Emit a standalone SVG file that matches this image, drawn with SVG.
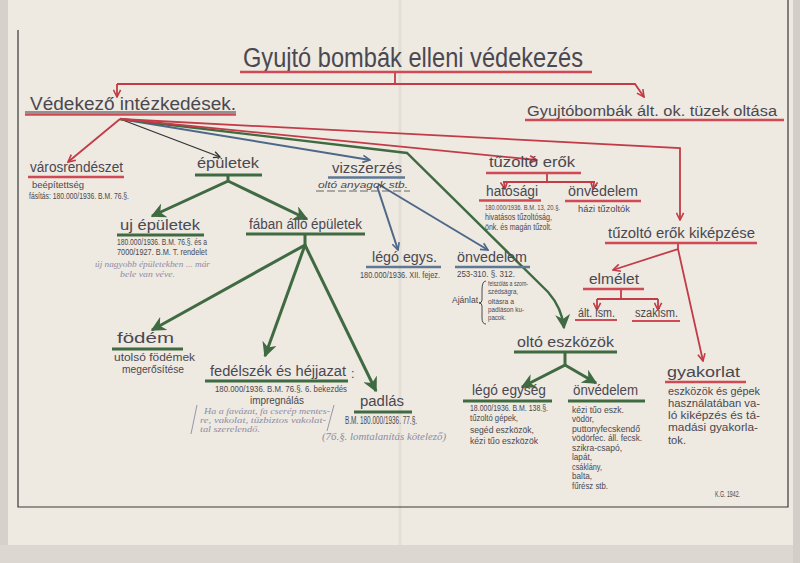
<svg xmlns="http://www.w3.org/2000/svg" width="800" height="563" viewBox="0 0 800 563">
<style>
.t{font-family:"Liberation Sans",Arial,sans-serif;fill:#4a4850}
.lbl{font-size:14px}
.big{font-size:27px}
.mid{font-size:18px}
.sm{font-size:9px}
.md{font-size:10.5px}
.pen{font-family:"Liberation Serif",serif;font-style:italic;fill:#8c8ca6;font-size:9px}
.ur{stroke:#cf4a55;stroke-width:2.5;fill:none}
.ug{stroke:#3f6a42;stroke-width:3.2;fill:none}
.ub{stroke:#5f7894;stroke-width:2.5;fill:none}
.uk{stroke:#3a3940;stroke-width:1;fill:none}
.cr{stroke:#c23b47;stroke-width:1.8;fill:none}
.cg{stroke:#3f6a42;stroke-width:3;fill:none}
.cb{stroke:#4d6888;stroke-width:2;fill:none}
.ck{stroke:#333;stroke-width:1.3;fill:none}
</style>
<defs>
<marker id="mr" viewBox="0 0 10 10" refX="9" refY="5" markerWidth="9" markerHeight="9" markerUnits="userSpaceOnUse" orient="auto"><path d="M1,1 L9,5 L1,9" fill="none" stroke="#c23b47" stroke-width="1.8"/></marker>
<marker id="mg" viewBox="0 0 10 10" refX="9" refY="5" markerWidth="15" markerHeight="15" markerUnits="userSpaceOnUse" orient="auto"><path d="M0,0 L10,5 L0,10 L3,5 Z" fill="#3f6a42"/></marker>
<marker id="mb" viewBox="0 0 10 10" refX="9" refY="5" markerWidth="9" markerHeight="9" markerUnits="userSpaceOnUse" orient="auto"><path d="M1,1 L9,5 L1,9" fill="none" stroke="#4d6888" stroke-width="1.8"/></marker>
<marker id="mk" viewBox="0 0 10 10" refX="9" refY="5" markerWidth="8" markerHeight="8" markerUnits="userSpaceOnUse" orient="auto"><path d="M1,1 L9,5 L1,9" fill="none" stroke="#333" stroke-width="1.6"/></marker>
</defs>
<rect width="800" height="563" fill="#eee9e1"/>
<rect x="0" y="0" width="8" height="563" fill="#d6d2cb"/>
<rect x="0" y="545" width="800" height="18" fill="#dcd8d1"/>
<rect x="793" y="0" width="7" height="563" fill="#d3cfc8"/>
<line x1="400" y1="0" x2="400" y2="545" stroke="#e4dfd6" stroke-width="3"/>
<g id="frame" stroke="#3a3a3a" stroke-width="1.2" fill="none">
<path d="M18,30 L18,507 L788,507 L788,0"/>
</g>

<g id="connectors">
<path class="cr" d="M395,73 L395,84"/>
<path class="cr" d="M117,84 L635,84 L644,97" marker-end="url(#mr)"/>
<path class="cr" d="M117,84 L117,97" marker-end="url(#mr)"/>
<path class="cr" d="M120,119 L68,162" marker-end="url(#mr)"/>
<path class="ck" d="M120,119 L220,157" marker-end="url(#mk)"/>
<path class="cb" d="M120,119 L370,160" marker-end="url(#mb)"/>
<path class="cg" style="stroke-width:2.4" d="M120,119 L407,153 L548,292 Q562,308 564,328" marker-end="url(#mg)"/>
<path class="cr" d="M120,119 L537,160" marker-end="url(#mr)"/>
<path class="cr" d="M120,119 L680,148 L680,220" marker-end="url(#mr)"/>
<path class="cb" d="M377,186 L398,250" marker-end="url(#mb)"/>
<path class="cb" d="M378,184 L488,250" marker-end="url(#mb)"/>
<path class="cg" d="M228,175 L228,181 L152,216" marker-end="url(#mg)"/>
<path class="cg" d="M228,181 L307,219" marker-end="url(#mg)"/>
<path class="cg" d="M305,234 L305,245 L152,330" marker-end="url(#mg)"/>
<path class="cg" d="M305,245 L265,356" marker-end="url(#mg)"/>
<path class="cg" d="M305,245 L376,391" marker-end="url(#mg)"/>
<path class="cg" d="M565,352 L565,365 L522,387" marker-end="url(#mg)"/>
<path class="cg" d="M565,365 L596,383" marker-end="url(#mg)"/>
<path class="cr" d="M547,173 L547,182"/>
<path class="cr" d="M503,182 L595,182"/>
<path class="cr" d="M504,182 L505,189" marker-end="url(#mr)"/>
<path class="cr" d="M594,182 L593,189" marker-end="url(#mr)"/>
<path class="cr" d="M678,243 L678,249 L613,270" marker-end="url(#mr)"/>
<path class="cr" d="M678,249 L703,361" marker-end="url(#mr)"/>
<path class="cr" d="M621,289 L621,299"/>
<path class="cr" d="M597,299 L658,299"/>
<path class="cr" d="M597,299 L597,310" marker-end="url(#mr)"/>
<path class="cr" d="M658,299 L658,310" marker-end="url(#mr)"/>
</g>

<g id="title">
<text class="t big" x="243" y="67" textLength="340" lengthAdjust="spacingAndGlyphs">Gyujtó bombák elleni védekezés</text>
<line class="ur" x1="240" y1="72" x2="592" y2="72"/>
</g>
<g id="vedekezo">
<text class="t mid" x="30" y="110" textLength="206" lengthAdjust="spacingAndGlyphs">Védekező intézkedések.</text>
<line class="uk" x1="25" y1="112" x2="236" y2="112"/>
<line class="ur" x1="25" y1="114.5" x2="236" y2="114.5"/>
</g>
<g id="oltasa">
<text class="t" style="font-size:15.5px" x="527" y="116" textLength="250" lengthAdjust="spacingAndGlyphs">Gyujtóbombák ált. ok. tüzek oltása</text>
<line class="ur" x1="525" y1="120" x2="784" y2="120"/>
</g>
<g id="varosrendeszet">
<text class="t lbl" x="30" y="172" textLength="93" lengthAdjust="spacingAndGlyphs">városrendészet</text>
<line class="ur" x1="28" y1="177" x2="124" y2="177"/>
<text class="t sm" x="32" y="188" textLength="52" lengthAdjust="spacingAndGlyphs">beépítettség</text>
<text class="t sm" x="29" y="199" textLength="100" lengthAdjust="spacingAndGlyphs">fásítás: 180.000/1936. B.M. 76.§.</text>
</g>
<g id="epuletek">
<text class="t lbl" x="197" y="168" textLength="62" lengthAdjust="spacingAndGlyphs">épületek</text>
<line class="ug" x1="195" y1="175" x2="262" y2="175"/>
</g>
<g id="uj-epuletek">
<text class="t lbl" x="120" y="230" textLength="80" lengthAdjust="spacingAndGlyphs">uj épületek</text>
<line class="ug" x1="117" y1="235" x2="204" y2="235"/>
<text class="t sm" x="117" y="245" textLength="90" lengthAdjust="spacingAndGlyphs">180.000/1936. B.M. 76.§. és a</text>
<text class="t sm" x="117" y="255" textLength="90" lengthAdjust="spacingAndGlyphs">7000/1927. B.M. T. rendelet</text>
<text class="pen" x="95" y="267" textLength="115" lengthAdjust="spacingAndGlyphs">új nagyobb épületekben ... már</text>
<text class="pen" x="120" y="277" textLength="55" lengthAdjust="spacingAndGlyphs">bele van véve.</text>
</g>
<g id="faban-allo">
<text class="t lbl" x="249" y="229" textLength="113" lengthAdjust="spacingAndGlyphs">fában álló épületek</text>
<line class="ug" x1="246" y1="234" x2="365" y2="234"/>
</g>
<g id="vizszerzes">
<text class="t lbl" x="332" y="173" textLength="70" lengthAdjust="spacingAndGlyphs">vizszerzés</text>
<line class="ub" x1="328" y1="177.5" x2="405" y2="177.5"/>
<text class="t sm" x="318" y="188" textLength="90" lengthAdjust="spacingAndGlyphs" style="font-style:italic">oltó anyagok stb.</text>
<line x1="316" y1="191" x2="410" y2="191" stroke="#666" stroke-width="1" stroke-dasharray="8,3"/>
</g>
<g id="lego-egys">
<text class="t lbl" x="372" y="262" textLength="65" lengthAdjust="spacingAndGlyphs">légó egys.</text>
<line class="ub" x1="366" y1="267" x2="441" y2="267"/>
<text class="t sm" x="360" y="278" textLength="80" lengthAdjust="spacingAndGlyphs">180.000/1936. XII. fejez.</text>
</g>
<g id="onvedelem-kek">
<text class="t lbl" x="457" y="262" textLength="70" lengthAdjust="spacingAndGlyphs">önvedelem</text>
<line class="ub" x1="455" y1="267" x2="530" y2="267"/>
<text class="t sm" x="457" y="277" textLength="58" lengthAdjust="spacingAndGlyphs">253-310. §. 312.</text>
<path d="M486,281 Q482,281 482,290 L482,300 Q482,303 479,303 Q482,303 482,306 L482,318 Q482,324 486,324" fill="none" stroke="#3a3940" stroke-width="0.9"/>
<text class="t" style="font-size:8px" x="488" y="286" textLength="40" lengthAdjust="spacingAndGlyphs">felszólás a szom-</text>
<text class="t" style="font-size:8px" x="488" y="294" textLength="30" lengthAdjust="spacingAndGlyphs">szédságra,</text>
<text class="t" style="font-size:8px" x="488" y="304" textLength="26" lengthAdjust="spacingAndGlyphs">oltásra a</text>
<text class="t" style="font-size:8px" x="488" y="312" textLength="36" lengthAdjust="spacingAndGlyphs">padláson ku-</text>
<text class="t" style="font-size:8px" x="488" y="320" textLength="18" lengthAdjust="spacingAndGlyphs">pacok.</text>
<text class="t" style="font-size:9px" x="452" y="303" textLength="26" lengthAdjust="spacingAndGlyphs">Ajánlat</text>
</g>
<g id="tuzolto-erok">
<text class="t lbl" x="489" y="167" textLength="86" lengthAdjust="spacingAndGlyphs">tűzoltó erők</text>
<line class="ur" x1="486" y1="173" x2="581" y2="173"/>
</g>
<g id="hatosagi">
<text class="t lbl" x="486" y="196" textLength="52" lengthAdjust="spacingAndGlyphs">hatósági</text>
<line class="ur" x1="479" y1="200.5" x2="541" y2="200.5"/>
<text class="t" style="font-size:7px" x="485" y="210" textLength="75" lengthAdjust="spacingAndGlyphs">180.000/1936. B.M. 13, 20.§.</text>
<text class="t sm" x="485" y="220" textLength="67" lengthAdjust="spacingAndGlyphs">hivatásos tűzoltóság,</text>
<text class="t sm" x="485" y="230" textLength="67" lengthAdjust="spacingAndGlyphs">önk. és magán tűzolt.</text>
</g>
<g id="onvedelem-piros">
<text class="t lbl" x="568" y="196" textLength="70" lengthAdjust="spacingAndGlyphs">önvédelem</text>
<line class="ur" x1="565" y1="201" x2="641" y2="201"/>
<text class="t sm" x="578" y="212" textLength="52" lengthAdjust="spacingAndGlyphs">házi tűzoltók</text>
</g>
<g id="kikepzese">
<text class="t lbl" x="608" y="238" textLength="147" lengthAdjust="spacingAndGlyphs">tűzoltó erők kiképzése</text>
<line class="ur" x1="605" y1="243" x2="757" y2="243"/>
</g>
<g id="elmelet">
<text class="t lbl" x="589" y="284" textLength="50" lengthAdjust="spacingAndGlyphs">elmélet</text>
<line class="ur" x1="583" y1="289" x2="644" y2="289"/>
</g>
<g id="alt-ism">
<text class="t" style="font-size:12px" x="578" y="317" textLength="37" lengthAdjust="spacingAndGlyphs">ált. ism.</text>
<line class="ur" style="stroke-width:2" x1="575" y1="320" x2="617" y2="320"/>
</g>
<g id="szakism">
<text class="t" style="font-size:12px" x="635" y="317" textLength="43" lengthAdjust="spacingAndGlyphs">szakism.</text>
<line class="ur" style="stroke-width:2" x1="632" y1="321" x2="680" y2="321"/>
</g>
<g id="gyakorlat">
<text class="t lbl" x="667" y="377" textLength="73" lengthAdjust="spacingAndGlyphs">gyakorlat</text>
<line class="ur" x1="665" y1="382" x2="746" y2="382"/>
<text class="t md" x="668" y="395" textLength="92" lengthAdjust="spacingAndGlyphs">eszközök és gépek</text>
<text class="t md" x="668" y="407" textLength="92" lengthAdjust="spacingAndGlyphs">használatában va-</text>
<text class="t md" x="668" y="419" textLength="92" lengthAdjust="spacingAndGlyphs">ló kiképzés és tá-</text>
<text class="t md" x="668" y="431" textLength="90" lengthAdjust="spacingAndGlyphs">madási gyakorla-</text>
<text class="t md" x="668" y="444" textLength="18" lengthAdjust="spacingAndGlyphs">tok.</text>
</g>
<g id="signature">
<text class="t" style="font-size:9px" x="715" y="497" textLength="25" lengthAdjust="spacingAndGlyphs">K.G. 1942.</text>
</g>
<g id="olto-eszkozok">
<text class="t lbl" x="517" y="347" textLength="97" lengthAdjust="spacingAndGlyphs">oltó eszközök</text>
<line class="ug" x1="514" y1="352" x2="617" y2="352"/>
</g>
<g id="lego-egyseg">
<text class="t lbl" x="472" y="395" textLength="74" lengthAdjust="spacingAndGlyphs">légó egység</text>
<line class="ug" x1="463" y1="401" x2="552" y2="401"/>
<text class="t sm" x="470" y="411" textLength="78" lengthAdjust="spacingAndGlyphs">18.000/1936. B.M. 138.§.</text>
<text class="t sm" x="470" y="421" textLength="48" lengthAdjust="spacingAndGlyphs">tűzoltó gépek,</text>
<text class="t sm" x="470" y="433" textLength="64" lengthAdjust="spacingAndGlyphs">segéd eszközök,</text>
<text class="t sm" x="470" y="444" textLength="68" lengthAdjust="spacingAndGlyphs">kézi tűo eszközök</text>
</g>
<g id="onvedelem-zold">
<text class="t lbl" x="573" y="395" textLength="65" lengthAdjust="spacingAndGlyphs">önvédelem</text>
<line class="ug" x1="568" y1="401" x2="645" y2="401"/>
<text class="t sm" x="572" y="413" textLength="52" lengthAdjust="spacingAndGlyphs">kézi tűo eszk.</text>
<text class="t sm" x="572" y="422" textLength="22" lengthAdjust="spacingAndGlyphs">vödör,</text>
<text class="t sm" x="572" y="431.5" textLength="68" lengthAdjust="spacingAndGlyphs">puttonyfecskendő</text>
<text class="t sm" x="572" y="441" textLength="70" lengthAdjust="spacingAndGlyphs">vödörfec. áll. fecsk.</text>
<text class="t sm" x="572" y="450.5" textLength="50" lengthAdjust="spacingAndGlyphs">szikra-csapó,</text>
<text class="t sm" x="572" y="460" textLength="20" lengthAdjust="spacingAndGlyphs">lapát,</text>
<text class="t sm" x="572" y="469.5" textLength="30" lengthAdjust="spacingAndGlyphs">csáklány,</text>
<text class="t sm" x="572" y="479" textLength="20" lengthAdjust="spacingAndGlyphs">balta,</text>
<text class="t sm" x="572" y="489" textLength="36" lengthAdjust="spacingAndGlyphs">fűrész stb.</text>
</g>
<g id="fodem">
<text class="t lbl" x="117" y="343" textLength="57" lengthAdjust="spacingAndGlyphs">födém</text>
<line class="ug" x1="112" y1="349" x2="183" y2="349"/>
<text class="t md" x="114" y="361" textLength="81" lengthAdjust="spacingAndGlyphs">utolsó födémek</text>
<text class="t md" x="122" y="373" textLength="62" lengthAdjust="spacingAndGlyphs">megerősítése</text>
</g>
<g id="fedelszek">
<text class="t lbl" x="210" y="376" textLength="136" lengthAdjust="spacingAndGlyphs">fedélszék és héjjazat</text>
<line class="ug" x1="205" y1="381" x2="348" y2="381"/>
<text class="t" style="font-size:13px" x="351" y="378">:</text>
<text class="t sm" x="215" y="392" textLength="132" lengthAdjust="spacingAndGlyphs">180.000/1936. B.M. 76.§. 6. bekezdés</text>
<text class="t md" x="250" y="404" textLength="54" lengthAdjust="spacingAndGlyphs">impregnálás</text>
<line x1="197" y1="405" x2="191" y2="434" stroke="#8c8ca6" stroke-width="0.9"/>
<line x1="334" y1="405" x2="327" y2="431" stroke="#8c8ca6" stroke-width="0.9"/>
<text class="pen" x="204" y="414" textLength="126" lengthAdjust="spacingAndGlyphs">Ha a favázat, fa cserép mentes-</text>
<text class="pen" x="200" y="423" textLength="126" lengthAdjust="spacingAndGlyphs">re, vakolat, tűzbiztos vakolat-</text>
<text class="pen" x="200" y="432" textLength="60" lengthAdjust="spacingAndGlyphs">tal szerelendő.</text>
</g>
<g id="padlas">
<text class="t lbl" x="360" y="406" textLength="44" lengthAdjust="spacingAndGlyphs">padlás</text>
<line class="ug" x1="354" y1="412" x2="412" y2="412"/>
<text class="t md" x="345" y="424" textLength="72" lengthAdjust="spacingAndGlyphs">B.M. 180.000/1936. 77.§.</text>
<text class="pen" style="font-size:10px" x="322" y="440" textLength="124" lengthAdjust="spacingAndGlyphs">(76.§. lomtalanítás kötelező)</text>
</g>
</svg>
